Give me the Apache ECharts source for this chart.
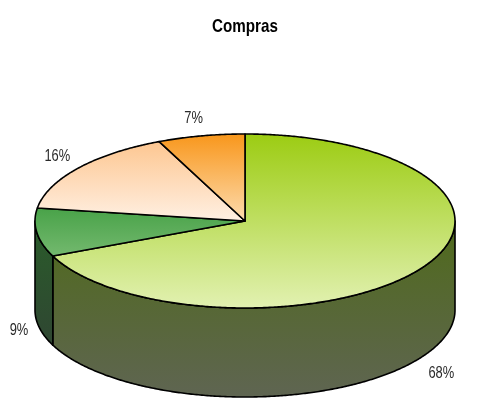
<!DOCTYPE html>
<html><head><meta charset="utf-8">
<style>html,body{margin:0;padding:0;background:#fff}#c{width:486px;height:401px}</style>
<script src="https://cdn.jsdelivr.net/npm/echarts@6/dist/echarts.min.js"></script>
</head><body><div id="c"></div>
<script>
const titleText = 'Compras';
const categories = ['A', 'B', 'C', 'D'];
const values = [68.4, 9.0, 15.9, 6.7];
const percentLabels = ['68%', '9%', '16%', '7%'];
const topColors = [['#9ccc12', '#e2f1b2'], ['#48a248', '#74b96f'], ['#fdc690', '#fff0e3'], ['#f8961a', '#fddcb0']];
const wallColors = [['#4f6a1a', '#5f6552'], ['#2a5c2a', '#2f4632']];
const labelNudge = [[2, 1], [4, 1], [-3, -1], [-3, 0]];

const CX = 245, CY = 221, RX = 210, RY = 87, DEPTH = 89;
const FONT = '"Liberation Sans",sans-serif';
const total = values.reduce((a, b) => a + b, 0);
const starts = [];
values.reduce((acc, v, i) => { starts[i] = acc; return acc + v; }, 0);
const rad = d => d * Math.PI / 180;
const pt = (deg, dy) => [CX + RX * Math.sin(rad(deg)), CY - RY * Math.cos(rad(deg)) + (dy || 0)];
const grad = c => ({ type: 'linear', x: 0, y: 0, x2: 0, y2: 1, colorStops: [{ offset: 0, color: c[0] }, { offset: 1, color: c[1] }] });
function arc(a0, a1, dy) {
  const pts = [], n = Math.max(2, Math.ceil(Math.abs(a1 - a0) * 2));
  for (let i = 0; i <= n; i++) pts.push(pt(a0 + (a1 - a0) * i / n, dy));
  return pts;
}
const stroke = { stroke: '#000', lineWidth: 1.6, lineJoin: 'round' };
function renderItem(params, api) {
  const i = params.dataIndex;
  const a0 = api.value(1) / total * 360, a1 = a0 + api.value(0) / total * 360;
  const children = [];
  const w0 = Math.max(a0, 90), w1 = Math.min(a1, 270);
  if (w1 > w0) {
    children.push({
      type: 'polygon', z2: 1,
      shape: { points: arc(w0, w1, 0).concat(arc(w1, w0, DEPTH)) },
      style: Object.assign({ fill: grad(wallColors[i] || wallColors[0]) }, stroke)
    });
  }
  children.push({
    type: 'polygon', z2: 2,
    shape: { points: [[CX, CY]].concat(arc(a0, a1, 0)) },
    style: Object.assign({ fill: grad(topColors[i]) }, stroke)
  });
  const mid = (a0 + a1) / 2;
  const lower = Math.cos(rad(mid)) < 0;
  children.push({
    type: 'text', z2: 3,
    x: CX + (RX + 22) * Math.sin(rad(mid)) + labelNudge[i][0],
    y: CY - (RY + 18) * Math.cos(rad(mid)) + (lower ? DEPTH + 5 : 0) + labelNudge[i][1],
    scaleX: 0.76,
    style: { text: percentLabels[i], fill: '#2a2a2a', align: 'center', verticalAlign: 'middle',
      font: '17px ' + FONT }
  });
  return { type: 'group', children };
}
const chart = echarts.init(document.getElementById('c'), null, { renderer: 'canvas' });
chart.setOption({
  animation: false,
  graphic: [{
    type: 'text', x: 245, y: 27, scaleX: 0.8, silent: true,
    style: { text: titleText, fill: '#000', align: 'center', verticalAlign: 'middle', font: 'bold 19px ' + FONT }
  }],
  series: [{
    type: 'custom', coordinateSystem: 'none', silent: true,
    data: values.map((v, i) => ({ name: categories[i], value: [v, starts[i]] })),
    renderItem
  }]
});
</script></body></html>
